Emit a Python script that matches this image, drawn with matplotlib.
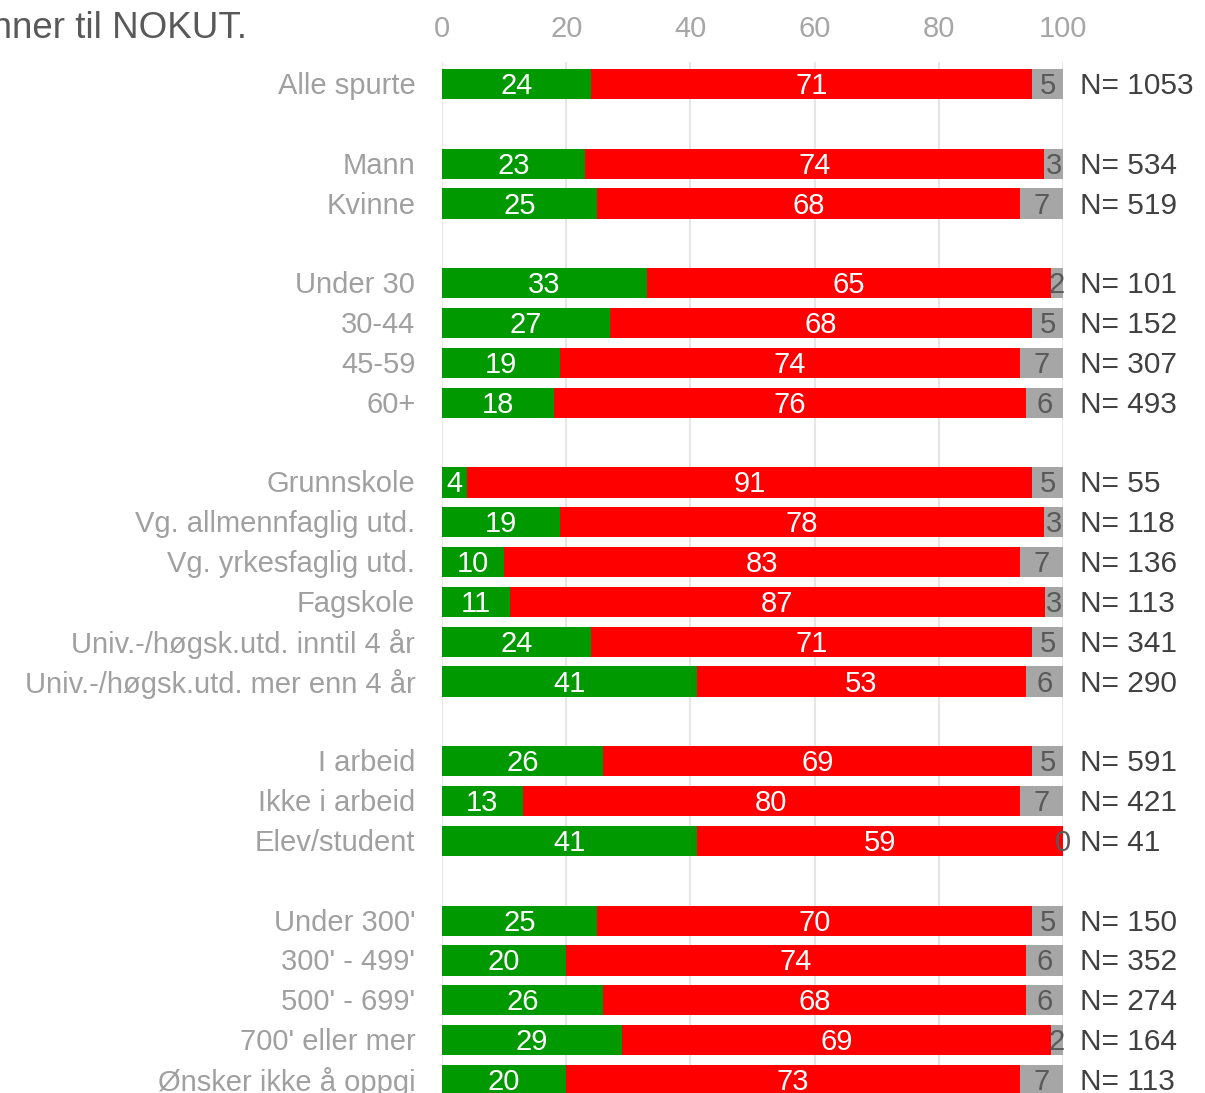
import numpy as np
import matplotlib.pyplot as plt

plt.rcParams['font.family'] = ['Liberation Sans', 'DejaVu Sans']

labels = ["Alle spurte",
          "Mann", "Kvinne",
          "Under 30", "30-44", "45-59", "60+",
          "Grunnskole", "Vg. allmennfaglig utd.", "Vg. yrkesfaglig utd.", "Fagskole",
          "Univ.-/høgsk.utd. inntil 4 år", "Univ.-/høgsk.utd. mer enn 4 år",
          "I arbeid", "Ikke i arbeid", "Elev/student",
          "Under 300'", "300' - 499'", "500' - 699'", "700' eller mer", "Ønsker ikke å oppgi"]
groups = [1, 2, 4, 6, 3, 5]
green = [24, 23, 25, 33, 27, 19, 18, 4, 19, 10, 11, 24, 41, 26, 13, 41, 25, 20, 26, 29, 20]
red = [71, 74, 68, 65, 68, 74, 76, 91, 78, 83, 87, 71, 53, 69, 80, 59, 70, 74, 68, 69, 73]
grey = [5, 3, 7, 2, 5, 7, 6, 5, 3, 7, 3, 5, 6, 5, 7, 0, 5, 6, 6, 2, 7]
n_resp = [1053, 534, 519, 101, 152, 307, 493, 55, 118, 136, 113, 341, 290,
          591, 421, 41, 150, 352, 274, 164, 113]

# row positions with an empty row between groups
pos = []
row = 0
for g in groups:
    for i in range(g):
        pos.append(row)
        row += 1
    row += 1
pos = np.array(pos)

g_arr = np.array(green, float)
r_arr = np.array(red, float)
s_arr = np.array(grey, float)
tot = g_arr + r_arr + s_arr
gw = g_arr / tot * 100
rw = r_arr / tot * 100
sw = s_arr / tot * 100

W, H = 1205, 1093
fig = plt.figure(figsize=(W / 100, H / 100), dpi=100)
row_px = 39.84
top_px = 84 - 0.55 * row_px
bot_px = 84 + 25.45 * row_px
ax = fig.add_axes([442 / W, 1 - bot_px / H, (1063 - 442) / W, (bot_px - top_px) / H])

c_green = '#009900'
c_red = '#ff0000'
c_grey = '#a6a6a6'
bh = 0.76
ax.barh(pos, gw, height=bh, color=c_green, zorder=2)
ax.barh(pos, rw, left=gw, height=bh, color=c_red, zorder=2)
ax.barh(pos, sw, left=gw + rw, height=bh, color=c_grey, zorder=2)

fs = 21
for i, y in enumerate(pos):
    yt = y + 0.05
    ax.text(gw[i] / 2, yt, str(green[i]), ha='center', va='center', color='white', fontsize=fs, zorder=3)
    ax.text(gw[i] + rw[i] / 2, yt, str(red[i]), ha='center', va='center', color='white', fontsize=fs, zorder=3)
    ax.text(gw[i] + rw[i] + sw[i] / 2, yt, str(grey[i]), ha='center', va='center', color='#595959', fontsize=fs, zorder=3)
    ax.text(102.7, yt, f"N= {n_resp[i]}", ha='left', va='center', color='#404040', fontsize=fs + 0.5, clip_on=False)
    ax.text(-4.3, yt, labels[i], ha='right', va='center', color='#a0a0a0', fontsize=fs, clip_on=False)

ax.set_xlim(0, 100)
ax.set_ylim(25.45, -0.55)
ax.set_xticks([0, 20, 40, 60, 80, 100])
ax.xaxis.tick_top()
ax.tick_params(axis='x', length=0, labelsize=fs, labelcolor='#a6a6a6', pad=14)
ax.set_yticks([])
ax.grid(axis='x', color='#e6e6e6', linewidth=1.5, zorder=0)
for s in ax.spines.values():
    s.set_visible(False)

fig.text(247 / W, 1 - 28 / H, "Andel som kjenner til NOKUT.", ha='right', va='center',
         fontsize=26.5, color='#595959')

plt.savefig("out.png", dpi=100)
